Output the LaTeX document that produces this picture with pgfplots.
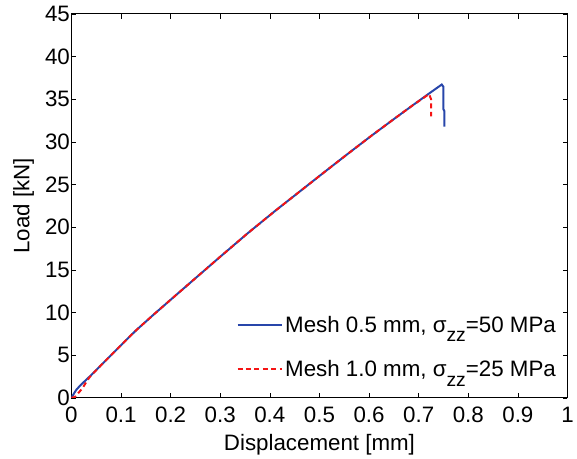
\documentclass[border=0pt]{standalone}
\usepackage{fontspec}
\setmainfont{Liberation Sans}
\usepackage{pgfplots}
\pgfplotsset{compat=1.18}
\definecolor{mblue}{RGB}{40,70,170}
\definecolor{mred}{RGB}{245,20,20}
\newcommand{\zz}{\raisebox{-10pt}{\fontsize{19.5}{22}\selectfont zz}}
\begin{document}
\begin{tikzpicture}
\begin{axis}[
  scale only axis,
  width=500pt, height=387pt,
  xmin=0, xmax=1, ymin=0, ymax=45,
  xtick={0,0.1,...,1.01}, ytick={0,5,...,45},
  xticklabels={0,0.1,0.2,0.3,0.4,0.5,0.6,0.7,0.8,0.9,1},
  tick align=inside, major tick length=5pt,
  /pgf/number format/assume math mode=true,
  tick label style={font=\fontsize{22.5}{25}\selectfont},
  xticklabel style={yshift=-6pt},
  yticklabel style={xshift=2pt},
  label style={font=\fontsize{22.5}{25}\selectfont},
  axis line style={line width=0.8pt},
  every tick/.style={black, line width=0.6pt},
  xlabel={Displacement [mm]},
  ylabel={Load [kN]},
  xlabel style={at={(axis description cs:0.5,-0.137)}, anchor=base},
  ylabel style={at={(axis description cs:-0.085,0.5)}, anchor=base},
  legend image code/.code={\draw[#1, line width=2pt] (0pt,0pt) -- (45pt,0pt);},
  legend style={at={(rel axis cs:0.981,0.046)}, anchor=south east, draw=none, fill=none,
    font=\fontsize{22.5}{25}\selectfont, row sep=23pt, inner sep=0pt},
  legend cell align=left,
]
\addplot[mblue, line width=2pt] coordinates {
(0,0) (0.005,0.5) (0.01,0.95) (0.017,1.4) (0.025,1.85) (0.035,2.4) (0.0594,3.8)
(0.09,5.58) (0.1295,7.87) (0.165,9.72) (0.206,11.80) (0.25,14.02) (0.3,16.54)
(0.356,19.32) (0.41,21.88) (0.4663,24.46) (0.51,26.46) (0.5563,28.56) (0.605,30.73)
(0.653,32.8) (0.69,34.37) (0.721,35.67) (0.7465,36.72) (0.750,36.45)
(0.750,33.8) (0.752,33.6) (0.752,31.8)
};
\addlegendentry{Mesh 0.5 mm, σ\zz=50 MPa}
\addplot[mred, line width=2pt, dash pattern=on 5pt off 3.5pt] coordinates {
(0,0) (0.007,0.1) (0.013,0.5) (0.022,1.1) (0.03,1.86) (0.037,2.45) (0.0594,3.8)
(0.09,5.58) (0.1295,7.87) (0.165,9.72) (0.206,11.80) (0.25,14.02) (0.3,16.54)
(0.356,19.32) (0.41,21.88) (0.4663,24.46) (0.51,26.46) (0.5563,28.56) (0.605,30.73)
(0.653,32.8) (0.69,34.37) (0.721,35.6) (0.725,35.0) (0.725,33.0)
};
\addlegendentry{Mesh 1.0 mm, σ\zz=25 MPa}
\path (rel axis cs:0,0) ++(-72pt,-57pt) coordinate (bbA);
\path (rel axis cs:1,1) ++(5pt,14pt) coordinate (bbB);
\end{axis}
\useasboundingbox (bbA) rectangle (bbB);
\end{tikzpicture}
\end{document}
